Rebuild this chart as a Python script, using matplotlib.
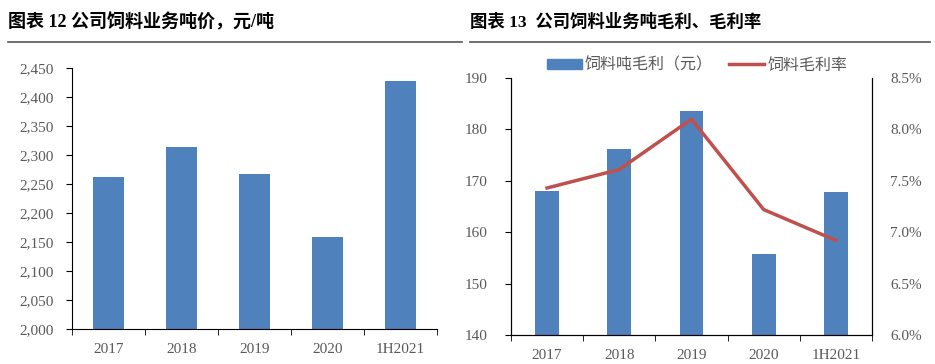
import numpy as np
import matplotlib.pyplot as plt
from matplotlib.lines import Line2D
from matplotlib.patches import Patch
from matplotlib.ticker import FuncFormatter, FixedLocator

plt.rcParams['font.family'] = ['Liberation Serif', 'Noto Sans CJK SC']

categories = ['2017', '2018', '2019', '2020', '1H2021']
price = [2262, 2314, 2267, 2159, 2428]
gross_profit = [168.0, 176.2, 183.6, 155.8, 167.8]
margin = [7.43, 7.61, 8.10, 7.22, 6.92]

title_left = '图表 12 公司饲料业务吨价，元/吨'
title_right = '图表 13  公司饲料业务吨毛利、毛利率'
legend_bar = '饲料吨毛利（元）'
legend_line = '饲料毛利率'

blue = '#4F81BD'
red = '#C0504D'
gray = '#595959'

fig = plt.figure(figsize=(9.35, 3.64), dpi=100)
W, H = 935, 364


def box(x0, y0, x1, y1):
    return [x0 / W, 1 - y1 / H, (x1 - x0) / W, (y1 - y0) / H]


def style_x(ax, n):
    x = np.arange(n)
    ax.set_xlim(-0.5, n - 0.5)
    ax.set_xticks(x)
    ax.set_xticklabels(categories)
    ax.xaxis.set_minor_locator(FixedLocator(np.arange(n + 1) - 0.5))
    ax.tick_params(axis='x', which='major', length=0, pad=10, labelsize=11, labelcolor=gray)
    ax.tick_params(axis='x', which='minor', length=4, direction='out', color='black')


# left chart
ax1 = fig.add_axes(box(72, 68, 437, 329))
x = np.arange(len(categories))
ax1.bar(x, price, width=0.43, color=blue, zorder=2)
ax1.set_ylim(2000, 2450)
ax1.set_yticks(np.arange(2000, 2451, 50))
ax1.yaxis.set_major_formatter(FuncFormatter(lambda v, p: f'{int(v):,}'))
ax1.tick_params(axis='y', length=4, direction='out', labelsize=11, labelcolor=gray, pad=9)
style_x(ax1, len(categories))
for s in ['top', 'right']:
    ax1.spines[s].set_visible(False)
for s in ['left', 'bottom']:
    ax1.spines[s].set_color('black')

# right chart
ax2 = fig.add_axes(box(511, 78, 872, 335))
ax2.bar(x, gross_profit, width=0.33, color=blue, zorder=2)
ax2.set_ylim(140, 190)
ax2.set_yticks(np.arange(140, 191, 10))
ax2.tick_params(axis='y', length=4, direction='out', labelsize=11, labelcolor=gray, pad=13)
style_x(ax2, len(categories))
ax2.spines['top'].set_visible(False)

ax3 = ax2.twinx()
ax3.plot(x, margin, color=red, linewidth=2.5, zorder=3)
ax3.set_ylim(6.0, 8.5)
ax3.set_yticks(np.arange(6.0, 8.51, 0.5))
ax3.yaxis.set_major_formatter(FuncFormatter(lambda v, p: f'{v:.1f}%'))
ax3.tick_params(axis='y', length=0, labelsize=11, labelcolor=gray, pad=13)
ax3.spines['top'].set_visible(False)

handles = [Patch(color=blue), Line2D([0], [0], color=red, linewidth=2.5)]
fig.legend(handles, [legend_bar, legend_line], loc='center', bbox_to_anchor=(697 / W, 1 - 65 / H),
           ncol=2, frameon=False, labelcolor=gray, handlelength=2.2, handleheight=0.6,
           columnspacing=1.0, handletextpad=0.2, prop={'family': ['Noto Sans CJK SC'], 'size': 11.5})

# titles and rules
fig.text(8 / W, 1 - 22 / H, title_left, fontsize=13, fontweight='bold', va='center', ha='left')
fig.text(470 / W, 1 - 22 / H, title_right, fontsize=12.5, fontweight='bold', va='center', ha='left')
fig.add_artist(Line2D([8 / W, 462 / W], [1 - 42 / H] * 2, color='#555555', linewidth=1.2))
fig.add_artist(Line2D([470 / W, 930 / W], [1 - 42 / H] * 2, color='#555555', linewidth=1.2))

fig.savefig('out.png', dpi=100)
